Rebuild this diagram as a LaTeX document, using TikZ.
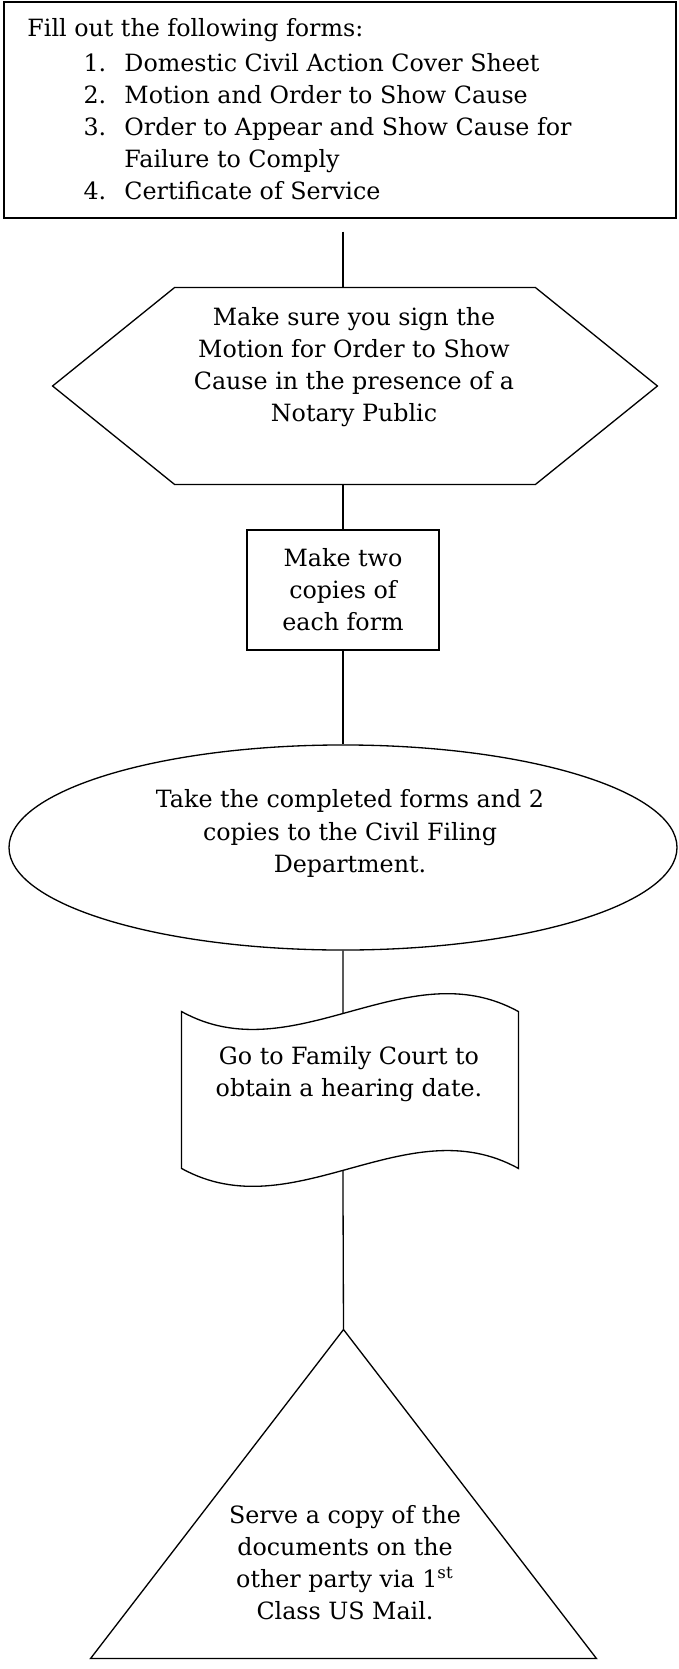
\documentclass[tikz,border=0pt]{standalone}
\usepackage{fontspec}
\setmainfont{DejaVu Serif}
\usetikzlibrary{shapes.geometric,calc}
\begin{document}
\begin{tikzpicture}[x=0.4545pt, y=-0.4545pt,
  every node/.style={font=\fontsize{10.8}{14.6}\selectfont, inner sep=0pt},
  outline/.style={draw=black, line width=0.6pt},
  link/.style={draw=black, line width=0.6pt},
  txt/.style={align=center},
  num/.style={}]
\useasboundingbox (0,0) rectangle (678,1669);
\fill[white] (0,0) rectangle (678,1669);
\coordinate (axis) at (343,0);

% top box
\node (forms) [outline, rectangle, minimum width=305.4pt, minimum height=98.2pt] at (340,110) {};
\node (formst) [anchor=west, align=left] at (27,109.5) {Fill out the following forms:\\[1pt]
\hspace*{25.5pt}\makebox[18.6pt][l]{1.}Domestic Civil Action Cover Sheet\\
\hspace*{25.5pt}\makebox[18.6pt][l]{2.}Motion and Order to Show Cause\\
\hspace*{25.5pt}\makebox[18.6pt][l]{3.}Order to Appear and Show Cause for\\
\hspace*{44.1pt}Failure to Comply\\
\hspace*{25.5pt}\makebox[18.6pt][l]{4.}Certificate of Service};

% hexagon
\node (hex) [minimum width=274.5pt, minimum height=89.1pt] at (355,386) {};
\draw[outline] (hex.west) -- ($(hex.north west)+(122,0)$) -- ($(hex.north east)+(-122,0)$) -- (hex.east) -- ($(hex.south east)+(-122,0)$) -- ($(hex.south west)+(122,0)$) -- cycle;
\node (hext) [txt] at (354,367) {Make sure you sign the\\ Motion for Order to Show\\ Cause in the presence of a\\ Notary Public};

% rectangle
\node (copies) [outline, rectangle, minimum width=87.3pt, minimum height=54.5pt, align=center] at (343,590) {Make two\\ copies of\\ each form};

% ellipse
\node (filing) [outline, ellipse, minimum width=303.6pt, minimum height=93.2pt] at (343,847.5) {};
\node (filingt) [txt] at (350,833.5) {Take the completed forms and 2\\ copies to the Civil Filing\\ Department.};

% wave (punched tape)
\node (court) [minimum width=152.7pt, minimum height=70.9pt] at (350,1090) {};
\draw[outline] (court.north west) .. controls +(112,62) and +(-112,-62) .. (court.north east) coordinate[pos=0.479] (ctop)
  -- (court.south east) .. controls +(-112,-62) and +(112,62) .. (court.south west) coordinate[pos=0.521] (cbot) -- cycle;
\node (courtt) [txt] at (349,1074) {Go to Family Court to\\ obtain a hearing date.};

% triangle
\node (serve) [minimum width=229.5pt, minimum height=149.1pt] at (343.5,1494) {};
\draw[outline] (serve.north) -- (serve.south east) -- (serve.south west) -- cycle;
\node (servet) [txt] at (345,1562.5) {Serve a copy of the\\ documents on the\\ other party via 1\textsuperscript{st}\\ Class US Mail.};

% connectors
\draw[link, shorten <=5.9pt] (forms.south -| axis) -- (hex.north -| axis);
\draw[link] (hex.south -| axis) -- (copies.north);
\draw[link] (copies.south) -- (filing.north);
\draw[link] (filing.south) -- (ctop);
\draw[link] (cbot) -- (serve.north);
\end{tikzpicture}
\end{document}
